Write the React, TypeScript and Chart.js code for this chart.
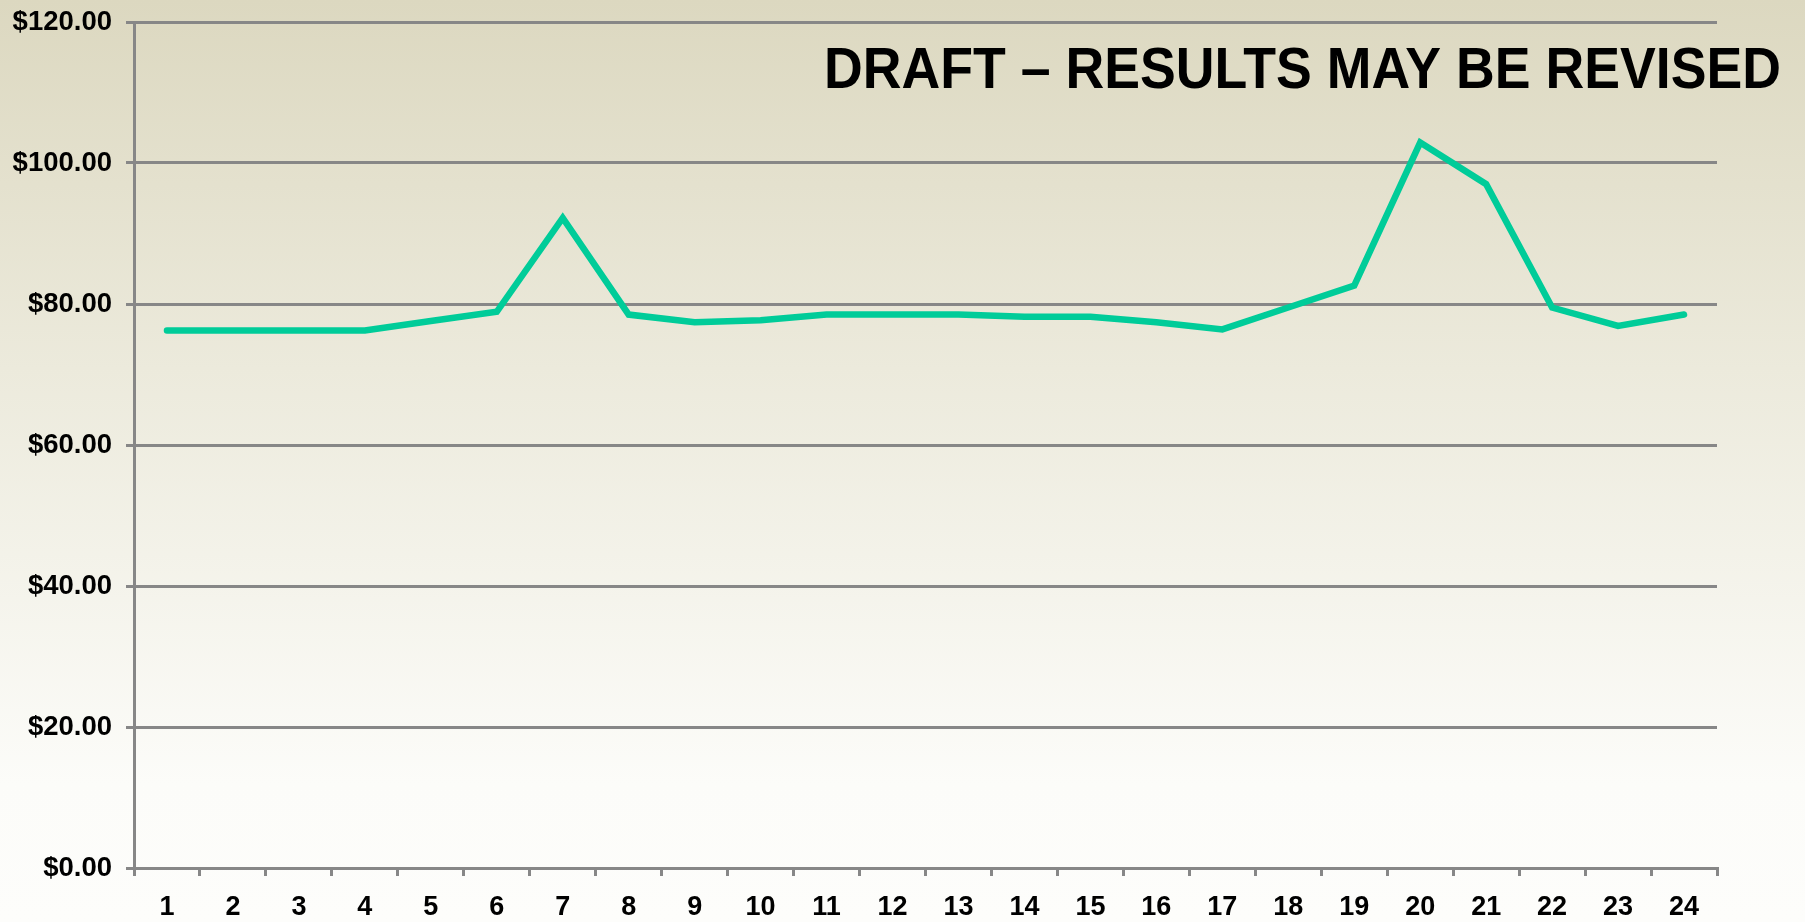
import React, { useEffect, useRef } from "react";
import { Chart, registerables } from "chart.js";

Chart.register(...registerables);

const categories: string[] = [
  "1", "2", "3", "4", "5", "6", "7", "8", "9", "10", "11", "12",
  "13", "14", "15", "16", "17", "18", "19", "20", "21", "22", "23", "24",
];

const priceValues: number[] = [
  76.25, 76.25, 76.25, 76.25, 77.6, 78.9, 92.2, 78.5, 77.4, 77.7, 78.5, 78.5,
  78.5, 78.2, 78.2, 77.4, 76.4, 79.5, 82.6, 102.9, 97.0, 79.5, 76.9, 78.5,
];

const yTickMin = 0;
const yTickMax = 120;
const yTickStep = 20;

const titleText = "DRAFT \u2013 RESULTS MAY BE REVISED";

const GRID = "#878787";
const LINE = "#00CC99";
const FONT = "'Liberation Sans', Arial, sans-serif";

const titlePlugin = {
  id: "draftTitle",
  afterDraw(chart: any) {
    const ctx = chart.ctx as CanvasRenderingContext2D;
    ctx.save();
    ctx.font = `bold 58px ${FONT}`;
    ctx.fillStyle = "#000";
    ctx.textBaseline = "alphabetic";
    ctx.textAlign = "left";
    const w = ctx.measureText(titleText).width;
    const targetW = 957;
    const left = 824;
    const baseline = 88;
    ctx.translate(left, baseline);
    ctx.scale(targetW / w, 1);
    ctx.fillText(titleText, 0, 0);
    ctx.restore();
  },
};

export default function App() {
  const canvasRef = useRef<HTMLCanvasElement | null>(null);

  useEffect(() => {
    if (!canvasRef.current) return;
    const chart = new Chart(canvasRef.current, {
      type: "line",
      data: {
        labels: categories,
        datasets: [
          {
            data: priceValues,
            borderColor: LINE,
            backgroundColor: LINE,
            borderWidth: 6.5,
            pointRadius: 0,
            pointHoverRadius: 0,
            tension: 0,
            borderCapStyle: "round",
            borderJoinStyle: "miter",
            fill: false,
          },
        ],
      },
      options: {
        responsive: false,
        animation: false,
        devicePixelRatio: 1,
        layout: { padding: { top: 22, right: 88, left: 0, bottom: 0 } },
        plugins: {
          legend: { display: false },
          title: { display: false },
          tooltip: { enabled: false },
        },
        scales: {
          x: {
            type: "category",
            offset: true,
            grid: {
              offset: true,
              drawOnChartArea: false,
              drawTicks: true,
              tickLength: 8,
              color: GRID,
              lineWidth: 3,
            },
            border: { display: true, color: GRID, width: 3 },
            ticks: {
              color: "#000",
              font: { family: FONT, size: 27, weight: "bold" },
              padding: 15,
              maxRotation: 0,
              autoSkip: false,
            },
            afterFit(scale: any) {
              scale.height = 54;
              scale.paddingLeft = 0;
              scale.paddingRight = 0;
            },
          },
          y: {
            min: yTickMin,
            max: yTickMax,
            grid: {
              color: GRID,
              lineWidth: 3,
              drawTicks: true,
              tickLength: 8,
            },
            border: { display: true, color: GRID, width: 3 },
            ticks: {
              stepSize: yTickStep,
              color: "#000",
              font: { family: FONT, size: 27.5, weight: "bold" },
              padding: 14,
              callback: (v: any) => "$" + Number(v).toFixed(2),
            },
            afterFit(scale: any) {
              scale.width = 134;
              scale.paddingTop = 0;
              scale.paddingBottom = 0;
            },
          },
        },
      },
      plugins: [titlePlugin],
    });
    return () => chart.destroy();
  }, []);

  return (
    <div
      style={{
        position: "fixed",
        left: 0,
        top: 0,
        width: 1805,
        height: 922,
        background:
          "linear-gradient(to bottom, rgb(220,216,192) 0%, rgb(236,234,220) 40%, rgb(252,252,249) 85%, rgb(253,253,251) 100%)",
      }}
    >
      <canvas
        ref={canvasRef}
        width={1805}
        height={922}
        style={{ display: "block", width: 1805, height: 922 }}
      />
    </div>
  );
}
